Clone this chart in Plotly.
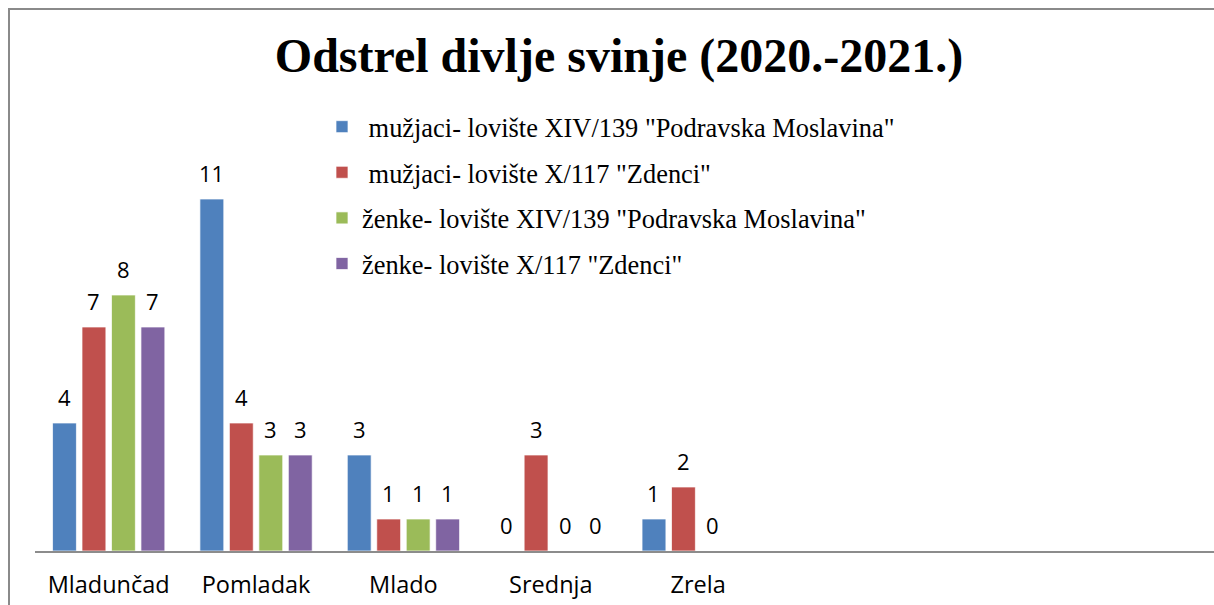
import plotly.graph_objects as go

categories = ["Mladunčad", "Pomladak", "Mlado", "Srednja", "Zrela"]
n_slots = 8  # category slots on the axis (last three empty)

series_names = [
    ' mužjaci- lovište XIV/139 "Podravska Moslavina"',
    ' mužjaci- lovište X/117 "Zdenci"',
    'ženke- lovište XIV/139 "Podravska Moslavina"',
    'ženke- lovište X/117 "Zdenci"',
]
muzjaci_podravska = [4, 11, 3, 0, 1]
muzjaci_zdenci = [7, 4, 1, 3, 2]
zenke_podravska = [8, 3, 1, 0, 0]
zenke_zdenci = [7, 3, 1, 0, None]
series_values = [muzjaci_podravska, muzjaci_zdenci, zenke_podravska, zenke_zdenci]
colors = ["#4F81BD", "#C0504D", "#9BBB59", "#8064A2"]

W, H = 1214, 605
ML, MR, MT, MB = 35, 0, 167, 54
BARGAP = 0.2
BARGROUPGAP = 0.19

x_idx = list(range(len(categories)))

fig = go.Figure()
for i, (name, vals, col) in enumerate(zip(series_names, series_values, colors)):
    fig.add_trace(go.Bar(
        x=x_idx, y=vals, name=name, legendgroup=f"g{i}",
        marker=dict(color=col, line=dict(color="rgba(255,255,255,0.7)", width=1)),
    ))

# data labels
n_series = len(series_values)
slot = (1 - BARGAP) / n_series
annotations = []
for i, vals in enumerate(series_values):
    for j, v in enumerate(vals):
        if v is None:
            continue
        annotations.append(dict(
            x=j + (i - (n_series - 1) / 2) * slot, y=v, xref="x", yref="y",
            text=str(v), showarrow=False, yanchor="middle", xanchor="center",
            yshift=26, font=dict(family="Open Sans", size=22, color="#000000"),
        ))

# paper coords for outer frame (left/top border)
pw = W - ML - MR
ph = H - MT - MB
def px_to_paper_x(px):
    return (px - ML) / pw
def px_to_paper_y(py):
    return (H - MB - py) / ph

fig.update_layout(
    width=W, height=H,
    margin=dict(l=ML, r=MR, t=MT, b=MB, autoexpand=False),
    paper_bgcolor="white", plot_bgcolor="white",
    barmode="group", bargap=BARGAP, bargroupgap=BARGROUPGAP,
    title=dict(
        text="<b>Odstrel divlje svinje (2020.-2021.)</b>",
        font=dict(family="Liberation Serif", size=48, color="#000000"),
        xref="container", yref="container", x=619 / W, xanchor="center",
        y=1 - 55 / H, yanchor="middle", automargin=False,
    ),
    legend=dict(
        xref="container", yref="container", x=322 / W, xanchor="left",
        y=1 - 103 / H, yanchor="top",
        font=dict(family="Liberation Serif", size=26.4, color="#000000"),
        traceorder="grouped", tracegroupgap=8.3, bgcolor="rgba(0,0,0,0)",
    ),
    xaxis=dict(
        range=[-0.5, n_slots - 0.5], tickmode="array", tickvals=x_idx, ticktext=categories,
        showgrid=False, zeroline=False, showline=True, linecolor="#8c8c8c", linewidth=2,
        ticks="", tickfont=dict(family="Open Sans", size=23.5, color="#000000"),
        ticklabelstandoff=12, tickangle=0, automargin=False, fixedrange=True,
    ),
    yaxis=dict(
        range=[0, 12], showgrid=False, zeroline=False, showline=False,
        showticklabels=False, ticks="", automargin=False, fixedrange=True,
    ),
    annotations=annotations,
    shapes=[dict(
        type="rect", xref="paper", yref="paper",
        x0=px_to_paper_x(9), x1=px_to_paper_x(W + 50),
        y0=px_to_paper_y(H + 50), y1=px_to_paper_y(9),
        line=dict(color="#8a8a8a", width=2), fillcolor="rgba(0,0,0,0)", layer="above",
    )],
    showlegend=True,
)

fig.write_html("out.html")
